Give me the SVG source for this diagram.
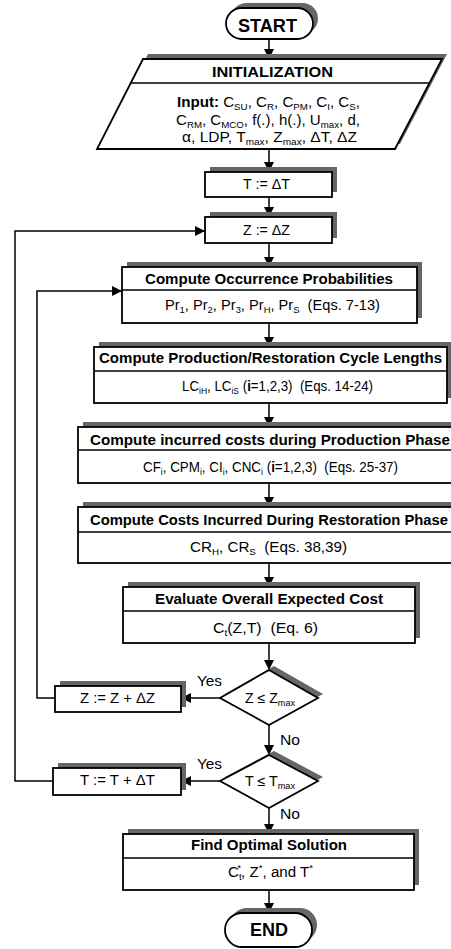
<svg xmlns="http://www.w3.org/2000/svg" width="451" height="949" viewBox="0 0 451 949">
<style>
  .bg { fill: #ffffff; }
  .box { fill: #ffffff; stroke: #000000; stroke-width: 1.8; }
  .sh { fill: #666666; stroke: none; }
  .div { stroke: #000000; stroke-width: 1.5; fill: none; }
  .conn { stroke: #000000; stroke-width: 1.5; fill: none; }
  text { font-family: "Liberation Sans", Arial, sans-serif; fill: #000000; }
  .hd { font-size: 14px; font-weight: bold; }
  .bd { font-size: 14px; }
  .term { font-size: 18px; font-weight: bold; }
  .lbl { font-size: 14px; }
</style>
<defs>
  <marker id="arr" viewBox="0 0 10 10" refX="10" refY="5" markerWidth="10" markerHeight="10" markerUnits="userSpaceOnUse" orient="auto">
    <path d="M0,0 L10,5 L0,10 z" fill="#000000"/>
  </marker>
</defs>
<rect class="bg" x="0" y="0" width="451" height="949"/>

<g id="connectors">
  <line class="conn" x1="269" y1="39" x2="269" y2="59" marker-end="url(#arr)"/>
  <line class="conn" x1="269" y1="149" x2="269" y2="172" marker-end="url(#arr)"/>
  <line class="conn" x1="269" y1="197" x2="269" y2="217" marker-end="url(#arr)"/>
  <line class="conn" x1="269" y1="243" x2="269" y2="267" marker-end="url(#arr)"/>
  <line class="conn" x1="269" y1="323" x2="269" y2="347" marker-end="url(#arr)"/>
  <line class="conn" x1="269" y1="403" x2="269" y2="427" marker-end="url(#arr)"/>
  <line class="conn" x1="269" y1="483" x2="269" y2="507" marker-end="url(#arr)"/>
  <line class="conn" x1="269" y1="563" x2="269" y2="587" marker-end="url(#arr)"/>
  <line class="conn" x1="269" y1="643" x2="269" y2="670" marker-end="url(#arr)"/>
  <line class="conn" x1="220" y1="698" x2="181" y2="698" marker-end="url(#arr)"/>
  <polyline class="conn" points="55,698 37,698 37,291 122,291" marker-end="url(#arr)"/>
  <line class="conn" x1="269" y1="725" x2="269" y2="755" marker-end="url(#arr)"/>
  <line class="conn" x1="220" y1="781" x2="181" y2="781" marker-end="url(#arr)"/>
  <polyline class="conn" points="53,781 15,781 15,231 205,231" marker-end="url(#arr)"/>
  <line class="conn" x1="269" y1="808" x2="269" y2="834" marker-end="url(#arr)"/>
  <line class="conn" x1="269" y1="890" x2="269" y2="913" marker-end="url(#arr)"/>
  <text class="lbl" x="197" y="686" textLength="25" lengthAdjust="spacingAndGlyphs">Yes</text>
  <text class="lbl" x="280" y="745" textLength="20" lengthAdjust="spacingAndGlyphs">No</text>
  <text class="lbl" x="197" y="769" textLength="25" lengthAdjust="spacingAndGlyphs">Yes</text>
  <text class="lbl" x="280" y="819" textLength="20" lengthAdjust="spacingAndGlyphs">No</text>
</g>

<g id="start">
  <rect class="sh" x="231" y="3" width="87" height="31" rx="15.5"/>
  <rect class="box" x="226" y="8" width="87" height="31" rx="15.5"/>
  <text class="term" x="238" y="32" textLength="59" lengthAdjust="spacingAndGlyphs">START</text>
</g>

<g id="initialization">
  <polygon class="sh" points="148,54 447,54 400,144 102,144"/>
  <polygon class="box" points="143,59 442,59 395,149 97,149"/>
  <line class="div" x1="130.5" y1="83" x2="429.5" y2="83"/>
  <text class="hd" x="212" y="77" textLength="121" lengthAdjust="spacingAndGlyphs">INITIALIZATION</text>
  <text class="bd" x="177" y="107" textLength="183" lengthAdjust="spacingAndGlyphs"><tspan font-weight="bold">Input:</tspan> C<tspan dy="3" font-size="9">SU</tspan><tspan dy="-3">, C</tspan><tspan dy="3" font-size="9">R</tspan><tspan dy="-3">, C</tspan><tspan dy="3" font-size="9">PM</tspan><tspan dy="-3">, C</tspan><tspan dy="3" font-size="9">I</tspan><tspan dy="-3">, C</tspan><tspan dy="3" font-size="9">S</tspan><tspan dy="-3">,</tspan></text>
  <text class="bd" x="176" y="124.5" textLength="184" lengthAdjust="spacingAndGlyphs">C<tspan dy="3" font-size="9">RM</tspan><tspan dy="-3">, C</tspan><tspan dy="3" font-size="9">MCO</tspan><tspan dy="-3">, f(.), h(.), U</tspan><tspan dy="3" font-size="9">max</tspan><tspan dy="-3">, d,</tspan></text>
  <text class="bd" x="182" y="142" textLength="175" lengthAdjust="spacingAndGlyphs">α, LDP, T<tspan dy="3" font-size="9">max</tspan><tspan dy="-3">, Z</tspan><tspan dy="3" font-size="9">max</tspan><tspan dy="-3">, ΔT, ΔZ</tspan></text>
</g>

<g id="t-init">
  <rect class="sh" x="210" y="167" width="127" height="25"/>
  <rect class="box" x="205" y="172" width="127" height="25"/>
  <text class="bd" x="243" y="189" textLength="47" lengthAdjust="spacingAndGlyphs">T := ΔT</text>
</g>

<g id="z-init">
  <rect class="sh" x="210" y="212" width="127" height="26"/>
  <rect class="box" x="205" y="217" width="127" height="26"/>
  <text class="bd" x="243" y="235" textLength="47" lengthAdjust="spacingAndGlyphs">Z := ΔZ</text>
</g>

<g id="occurrence">
  <rect class="sh" x="127" y="262" width="295" height="56"/>
  <rect class="box" x="122" y="267" width="295" height="56"/>
  <line class="div" x1="122" y1="290" x2="417" y2="290"/>
  <text class="hd" x="145" y="284" textLength="248" lengthAdjust="spacingAndGlyphs">Compute Occurrence Probabilities</text>
  <text class="bd" x="165" y="310" textLength="215" lengthAdjust="spacingAndGlyphs">Pr<tspan dy="3" font-size="9">1</tspan><tspan dy="-3">, Pr</tspan><tspan dy="3" font-size="9">2</tspan><tspan dy="-3">, Pr</tspan><tspan dy="3" font-size="9">3</tspan><tspan dy="-3">, Pr</tspan><tspan dy="3" font-size="9">H</tspan><tspan dy="-3">, Pr</tspan><tspan dy="3" font-size="9">S</tspan><tspan dy="-3">&#160; (Eqs. 7-13)</tspan></text>
</g>

<g id="cycle-lengths">
  <rect class="sh" x="99" y="342" width="353" height="56"/>
  <rect class="box" x="94" y="347" width="353" height="56"/>
  <line class="div" x1="94" y1="371" x2="447" y2="371"/>
  <text class="hd" x="99" y="363" textLength="343" lengthAdjust="spacingAndGlyphs">Compute Production/Restoration Cycle Lengths</text>
  <text class="bd" x="182" y="391" textLength="191" lengthAdjust="spacingAndGlyphs">LC<tspan dy="3" font-size="9">iH</tspan><tspan dy="-3">, LC</tspan><tspan dy="3" font-size="9">iS</tspan><tspan dy="-3"> (</tspan><tspan font-weight="bold">i</tspan>=1,2,3)&#160; (Eqs. 14-24)</text>
</g>

<g id="production-costs">
  <rect class="sh" x="83" y="422" width="380" height="56"/>
  <rect class="box" x="78" y="427" width="380" height="56"/>
  <line class="div" x1="78" y1="450" x2="458" y2="450"/>
  <text class="hd" x="90" y="445" textLength="360" lengthAdjust="spacingAndGlyphs">Compute incurred costs during Production Phase</text>
  <text class="bd" x="143" y="472" textLength="255" lengthAdjust="spacingAndGlyphs">CF<tspan dy="3" font-size="9">i</tspan><tspan dy="-3">, CPM</tspan><tspan dy="3" font-size="9">i</tspan><tspan dy="-3">, CI</tspan><tspan dy="3" font-size="9">i</tspan><tspan dy="-3">, CNC</tspan><tspan dy="3" font-size="9">i</tspan><tspan dy="-3"> (</tspan><tspan font-weight="bold">i</tspan>=1,2,3)&#160; (Eqs. 25-37)</text>
</g>

<g id="restoration-costs">
  <rect class="sh" x="83" y="502" width="380" height="56"/>
  <rect class="box" x="78" y="507" width="380" height="56"/>
  <line class="div" x1="78" y1="532" x2="458" y2="532"/>
  <text class="hd" x="90" y="525" textLength="358" lengthAdjust="spacingAndGlyphs">Compute Costs Incurred During Restoration Phase</text>
  <text class="bd" x="190" y="552" textLength="157" lengthAdjust="spacingAndGlyphs">CR<tspan dy="3" font-size="9">H</tspan><tspan dy="-3">, CR</tspan><tspan dy="3" font-size="9">S</tspan><tspan dy="-3">&#160; (Eqs. 38,39)</tspan></text>
</g>

<g id="evaluate">
  <rect class="sh" x="128" y="582" width="292" height="56"/>
  <rect class="box" x="123" y="587" width="292" height="56"/>
  <line class="div" x1="123" y1="611" x2="415" y2="611"/>
  <text class="hd" x="155" y="604" textLength="228" lengthAdjust="spacingAndGlyphs">Evaluate Overall Expected Cost</text>
  <text class="bd" x="213" y="633" textLength="105" lengthAdjust="spacingAndGlyphs">C<tspan dy="3" font-size="9">t</tspan><tspan dy="-3">(Z,T)&#160; (Eq. 6)</tspan></text>
</g>

<g id="decision-z">
  <polygon class="sh" points="274,666 323,694 274,721 225,694"/>
  <polygon class="box" points="269,670 318,698 269,725 220,698"/>
  <text class="bd" x="245" y="703" textLength="50" lengthAdjust="spacingAndGlyphs">Z ≤ Z<tspan dy="3" font-size="9">max</tspan></text>
</g>

<g id="z-increment">
  <rect class="sh" x="60" y="681" width="126" height="26"/>
  <rect class="box" x="55" y="686" width="126" height="26"/>
  <text class="bd" x="80" y="703" textLength="75" lengthAdjust="spacingAndGlyphs">Z := Z + ΔZ</text>
</g>

<g id="decision-t">
  <polygon class="sh" points="274,751 323,777 274,804 225,777"/>
  <polygon class="box" points="269,755 318,781 269,808 220,781"/>
  <text class="bd" x="245" y="786" textLength="50" lengthAdjust="spacingAndGlyphs">T ≤ T<tspan dy="3" font-size="9">max</tspan></text>
</g>

<g id="t-increment">
  <rect class="sh" x="58" y="763" width="128" height="27"/>
  <rect class="box" x="53" y="768" width="128" height="27"/>
  <text class="bd" x="80" y="785" textLength="75" lengthAdjust="spacingAndGlyphs">T := T + ΔT</text>
</g>

<g id="optimal">
  <rect class="sh" x="128" y="829" width="291" height="56"/>
  <rect class="box" x="123" y="834" width="291" height="56"/>
  <line class="div" x1="123" y1="858" x2="414" y2="858"/>
  <text class="hd" x="191" y="850" textLength="156" lengthAdjust="spacingAndGlyphs">Find Optimal Solution</text>
  <text class="bd" x="228" y="877" textLength="85" lengthAdjust="spacingAndGlyphs">C<tspan dy="3" font-size="9">t</tspan><tspan dx="-4" dy="-9" font-size="9">*</tspan><tspan dy="6">, Z</tspan><tspan dy="-6" font-size="9">*</tspan><tspan dy="6">, and T</tspan><tspan dy="-6" font-size="9">*</tspan></text>
</g>

<g id="end">
  <rect class="sh" x="230" y="908" width="87" height="34" rx="17"/>
  <rect class="box" x="225" y="913" width="87" height="34" rx="17"/>
  <text class="term" x="250" y="936" textLength="38" lengthAdjust="spacingAndGlyphs">END</text>
</g>
</svg>
